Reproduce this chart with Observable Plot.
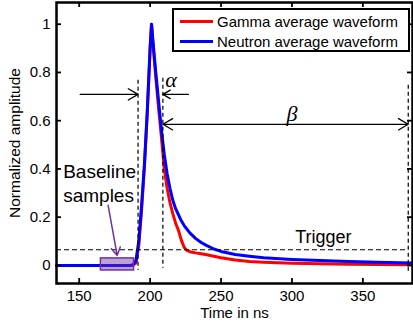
<!DOCTYPE html>
<html><head><meta charset="utf-8">
<script src="https://cdn.jsdelivr.net/npm/d3@7"></script>
<script src="https://cdn.jsdelivr.net/npm/@observablehq/plot@0.6"></script>
<style>
body{margin:0;background:#fff;font-family:"Liberation Sans",Arial,sans-serif;}
#wrap{position:relative;width:413px;height:326px;}
#legend{position:absolute;left:172px;top:8px;width:238px;height:44px;box-sizing:border-box;border:2px solid #000;background:#fff;}
.item{position:absolute;left:0;height:20px;display:flex;align-items:center;font-size:15px;white-space:nowrap;color:#000;}
.swatch{display:inline-block;width:33px;height:3px;margin-left:6px;margin-right:4px;}
</style></head><body>
<div id="wrap"><div id="legend"></div></div>
<script>
// ---- data ----
const time    = [134, 150, 170, 186, 188, 190, 192, 194, 196, 198, 200, 201, 202, 204, 206, 208, 210, 212, 214, 216, 218, 220, 222, 224, 226, 228, 232, 236, 240, 245, 250, 260, 270, 280, 300, 320, 340, 360, 385];
const gamma   = [0, 0, 0, 0, 0.001, 0.01, 0.08, 0.23, 0.41, 0.63, 0.9, 1.0, 0.92, 0.78, 0.65, 0.53, 0.40, 0.32, 0.26, 0.215, 0.175, 0.145, 0.105, 0.075, 0.062, 0.057, 0.052, 0.048, 0.044, 0.038, 0.032, 0.022, 0.016, 0.013, 0.009, 0.007, 0.005, 0.004, 0.003];
const neutron = [0, 0, 0, 0, 0.003, 0.02, 0.1, 0.25, 0.42, 0.64, 0.9, 1.0, 0.93, 0.80, 0.68, 0.56, 0.46, 0.38, 0.32, 0.27, 0.235, 0.21, 0.185, 0.165, 0.15, 0.135, 0.112, 0.095, 0.082, 0.068, 0.058, 0.045, 0.038, 0.032, 0.025, 0.02, 0.016, 0.013, 0.01];
const seriesNames = ["Gamma average waveform", "Neutron average waveform"];
const seriesColors = ["#ff0000", "#0000ff"];
const xTicks = [150, 200, 250, 300, 350];
const yTicks = [0, 0.2, 0.4, 0.6, 0.8, 1];
const xDomain = [134, 385];
const yDomain = [-0.075, 1.09];

// annotations (data coordinates)
const dashedV = [{t: 191.5, y1: 0.768, y2: -0.02}, {t: 209, y1: 0.776, y2: -0.012}, {t: 382, y1: 0.747, y2: -0.025}];
const triggerLine = [{v: 0.065, x1: 134, x2: 382}];
const alphaArrows = [{x1: 150.7, x2: 191.5, y: 0.709}, {x1: 227, x2: 209, y: 0.709}];
const betaArrows = [{x1: 295.5, x2: 209, y: 0.585}, {x1: 295.5, x2: 382, y: 0.585}];
const baselineBox = [{x1: 165.3, x2: 188.7, y1: -0.021, y2: 0.029}];
const baselineArrow = [{x1: 170.4, y1: 0.249, x2: 176.8, y2: 0.041}];
const greekLabels = [{t: 214.8, v: 0.739, s: "α"}, {t: 300, v: 0.598, s: "β"}];
const baselineText = [{t: 138.7, v: 0.361, s: "Baseline"}, {t: 138.7, v: 0.262, s: "samples"}];
const triggerText = [{t: 322.2, v: 0.094, s: "Trigger"}];

const gammaData = time.map((t, i) => ({t, v: gamma[i]}));
const neutronData = time.map((t, i) => ({t, v: neutron[i]}));

const W = 413, H = 326, mL = 56, mR = 1, mT = 2, mB = 43;
const iW = W - mL - mR, iH = H - mT - mB;
const tl = 5;
const font = '"Liberation Sans", Arial, sans-serif';
const purple = "#7030a0";

const chart = Plot.plot({
  width: W, height: H,
  marginLeft: mL, marginRight: mR, marginTop: mT, marginBottom: mB,
  style: {fontFamily: font, background: "#fff", color: "#000", overflow: "visible"},
  x: {domain: xDomain},
  y: {domain: yDomain},
  marks: [
    Plot.line(gammaData, {x: "t", y: "v", stroke: seriesColors[0], strokeWidth: 3}),
    Plot.line(neutronData, {x: "t", y: "v", stroke: seriesColors[1], strokeWidth: 3}),
    Plot.ruleX(dashedV, {x: "t", y1: "y1", y2: "y2", stroke: "#000", strokeWidth: 1.2, strokeDasharray: "4,3"}),
    Plot.ruleY(triggerLine, {y: "v", x1: "x1", x2: "x2", stroke: "#000", strokeWidth: 1.2, strokeDasharray: "5,3"}),
    Plot.arrow(alphaArrows, {x1: "x1", x2: "x2", y1: "y", y2: "y", stroke: "#000", strokeWidth: 1.3, headLength: 13, headAngle: 60}),
    Plot.arrow(betaArrows, {x1: "x1", x2: "x2", y1: "y", y2: "y", stroke: "#000", strokeWidth: 1.3, headLength: 13, headAngle: 60}),
    Plot.rect(baselineBox, {x1: "x1", x2: "x2", y1: "y1", y2: "y2", fill: purple, fillOpacity: 0.45, stroke: purple, strokeWidth: 1.5}),
    Plot.arrow(baselineArrow, {x1: "x1", y1: "y1", x2: "x2", y2: "y2", stroke: purple, strokeWidth: 1.5, headLength: 9, headAngle: 60}),
    Plot.text(greekLabels, {x: "t", y: "v", text: "s", fontSize: 22, fontStyle: "italic", fontFamily: '"Liberation Serif", "DejaVu Serif", serif', lineAnchor: "bottom", fill: "#000"}),
    Plot.text(baselineText, {x: "t", y: "v", text: "s", fontSize: 19, textAnchor: "start", lineAnchor: "bottom", fill: "#000"}),
    Plot.text(triggerText, {x: "t", y: "v", text: "s", fontSize: 18, lineAnchor: "bottom", fill: "#000"}),
    // inward ticks on all four sides
    Plot.tickX(xTicks, {x: d => d, insetTop: iH - tl, stroke: "#000", strokeWidth: 1.8}),
    Plot.tickX(xTicks, {x: d => d, insetBottom: iH - tl, stroke: "#000", strokeWidth: 1.8}),
    Plot.tickY(yTicks, {y: d => d, insetRight: iW - tl, stroke: "#000", strokeWidth: 1.8}),
    Plot.tickY(yTicks, {y: d => d, insetLeft: iW - tl, stroke: "#000", strokeWidth: 1.8}),
    Plot.frame({stroke: "#000", strokeWidth: 2.5}),
    Plot.axisX({ticks: xTicks, tickSize: 0, tickPadding: 7, fontSize: 15, label: null, tickFormat: d => String(d)}),
    Plot.axisY({ticks: yTicks, tickSize: 0, tickPadding: 6, fontSize: 15, label: null, tickFormat: d => String(d)}),
    Plot.text(["Time in ns"], {frameAnchor: "bottom", dy: 34, textAnchor: "middle", lineAnchor: "bottom", fontSize: 15, fill: "#000"}),
    Plot.text(["Normalized amplitude"], {frameAnchor: "left", dx: -37, rotate: -90, textAnchor: "middle", lineAnchor: "bottom", fontSize: 15.5, fill: "#000"})
  ]
});
document.getElementById("wrap").prepend(chart);

const legend = document.getElementById("legend");
seriesNames.forEach((name, i) => {
  const item = document.createElement("div");
  item.className = "item";
  item.style.top = (1 + i * 20) + "px";
  const sw = document.createElement("span");
  sw.className = "swatch";
  sw.style.background = seriesColors[i];
  const tx = document.createElement("span");
  tx.textContent = name;
  item.append(sw, tx);
  legend.append(item);
});
</script>
</body></html>
